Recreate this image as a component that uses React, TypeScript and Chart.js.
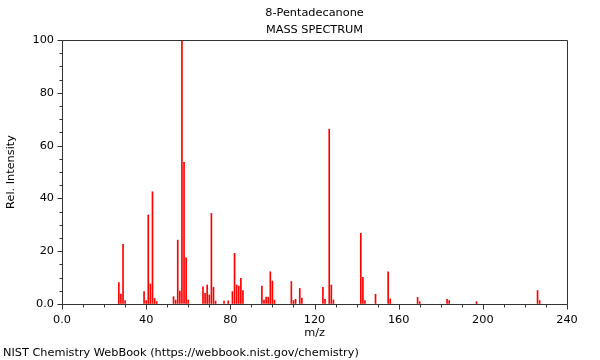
import React, { useEffect, useRef } from 'react';
import { Chart, registerables } from 'chart.js';

Chart.register(...registerables);

const TITLE = '8-Pentadecanone';
const SUBTITLE = 'MASS SPECTRUM';
const X_LABEL = 'm/z';
const Y_LABEL = 'Rel. Intensity';
const FOOTER = 'NIST Chemistry WebBook (https://webbook.nist.gov/chemistry)';

const mzValues = [
  27, 28, 29, 30, 39, 40, 41, 42, 43, 44, 45, 53, 54, 55, 56, 57, 58, 59, 60,
  67, 68, 69, 70, 71, 72, 73, 77, 79, 81, 82, 83, 84, 85, 86, 95, 96, 97, 98,
  99, 100, 101, 109, 110, 111, 113, 114, 124, 125, 127, 128, 129, 142, 143,
  144, 149, 155, 156, 169, 170, 183, 184, 197, 226, 227,
];
const intensities = [
  8.1, 3.8, 22.6, 1.3, 4.7, 1.3, 33.7, 7.6, 42.5, 2.1, 0.9, 2.8, 1.5, 24.2, 4.9, 100, 53.7, 17.5, 1.5,
  6.5, 4.0, 7.2, 3.4, 34.3, 6.3, 1.1, 1.1, 1.2, 4.7, 19.2, 7.2, 6.8, 9.7, 5.1, 6.8, 1.5, 2.6, 2.6,
  12.2, 8.7, 1.5, 8.5, 1.3, 1.8, 5.9, 2.2, 6.3, 1.8, 66.2, 7.2, 1.5, 26.8, 10.1,
  1.3, 3.7, 12.2, 1.9, 2.5, 0.9, 1.8, 1.3, 0.9, 5.1, 1.3,
];

const X_MIN = 0;
const X_MAX = 240;
const X_MAJOR = 40;
const X_MINOR = 10;
const Y_MIN = 0;
const Y_MAX = 100;
const Y_MAJOR = 20;
const Y_MINOR = 5;

const FONT_FAMILY = '"DejaVu Sans", "Liberation Sans", sans-serif';
const FONT_SIZE = 11.3;
const AXIS_COLOR = '#333333';
const TEXT_COLOR = '#000000';
const BAR_COLOR = '#ff0000';

const tickLabel = (v: number) => (v === 0 ? '0.0' : String(v));

const decorPlugin = {
  id: 'decor',
  afterDraw(chart: any) {
    const { ctx, chartArea: a, scales } = chart;
    const xs = scales.x;
    const ys = scales.y;
    ctx.save();
    ctx.strokeStyle = AXIS_COLOR;
    ctx.lineWidth = 1;
    const L = Math.round(a.left) + 0.5;
    const R = Math.round(a.right) + 0.5;
    const T = Math.round(a.top) + 0.5;
    const B = Math.round(a.bottom) + 0.5;
    ctx.beginPath();
    ctx.rect(L, T, R - L, B - T);
    ctx.stroke();

    ctx.beginPath();
    for (let v = X_MIN; v <= X_MAX; v += X_MINOR) {
      const px = Math.round(xs.getPixelForValue(v)) + 0.5;
      const len = v % X_MAJOR === 0 ? 5 : 3;
      ctx.moveTo(px, B);
      ctx.lineTo(px, B + len);
    }
    for (let v = Y_MIN; v <= Y_MAX; v += Y_MINOR) {
      const py = Math.round(ys.getPixelForValue(v)) + 0.5;
      const len = v % Y_MAJOR === 0 ? 5 : 3;
      ctx.moveTo(L, py);
      ctx.lineTo(L - len, py);
    }
    ctx.stroke();

    ctx.fillStyle = TEXT_COLOR;
    ctx.font = `${FONT_SIZE}px ${FONT_FAMILY}`;
    ctx.textBaseline = 'middle';
    ctx.textAlign = 'center';
    const cx = (a.left + a.right) / 2;
    ctx.fillText(TITLE, cx, a.top - 27);
    ctx.fillText(SUBTITLE, cx, a.top - 10);
    ctx.textAlign = 'left';
    ctx.fillText(FOOTER, 3, chart.height - 7);
    ctx.restore();
  },
};

export default function App() {
  const canvasRef = useRef<HTMLCanvasElement | null>(null);

  useEffect(() => {
    const canvas = canvasRef.current;
    if (!canvas) return;
    const font = { family: FONT_FAMILY, size: FONT_SIZE };
    const chart = new Chart(canvas, {
      type: 'bar',
      data: {
        datasets: [
          {
            data: mzValues.map((m, i) => ({ x: m, y: intensities[i] })),
            backgroundColor: BAR_COLOR,
            borderWidth: 0,
            barThickness: 1,
          },
        ],
      },
      options: {
        animation: false,
        responsive: false,
        devicePixelRatio: 1,
        layout: { padding: { top: 40, right: 33, bottom: 0, left: 0 } },
        plugins: {
          legend: { display: false },
          tooltip: { enabled: false },
          title: { display: false },
        },
        scales: {
          x: {
            type: 'linear',
            min: X_MIN,
            max: X_MAX,
            offset: false,
            afterFit: (s: any) => {
              s.height = 56;
            },
            ticks: {
              stepSize: X_MAJOR,
              autoSkip: false,
              maxRotation: 0,
              padding: 4,
              color: TEXT_COLOR,
              font,
              callback: (v: any) => tickLabel(Number(v)),
            },
            grid: { offset: false, drawOnChartArea: false, tickLength: 5, tickColor: 'transparent' },
            border: { display: false },
            title: {
              display: true,
              text: X_LABEL,
              color: TEXT_COLOR,
              font,
              padding: { top: 0, bottom: 20 },
            },
          },
          y: {
            type: 'linear',
            min: Y_MIN,
            max: Y_MAX,
            afterFit: (s: any) => {
              s.width = 62;
            },
            ticks: {
              stepSize: Y_MAJOR,
              padding: 3,
              color: TEXT_COLOR,
              font,
              callback: (v: any) => tickLabel(Number(v)),
            },
            grid: { drawOnChartArea: false, tickLength: 5, tickColor: 'transparent' },
            border: { display: false },
            title: {
              display: true,
              text: Y_LABEL,
              color: TEXT_COLOR,
              font,
              padding: { top: 4, bottom: 0 },
            },
          },
        },
      },
      plugins: [decorPlugin],
    } as any);
    return () => chart.destroy();
  }, []);

  return (
    <div style={{ position: 'fixed', left: 0, top: 0, width: 600, height: 360, background: '#fff' }}>
      <canvas ref={canvasRef} width={600} height={360} style={{ display: 'block' }} />
    </div>
  );
}
